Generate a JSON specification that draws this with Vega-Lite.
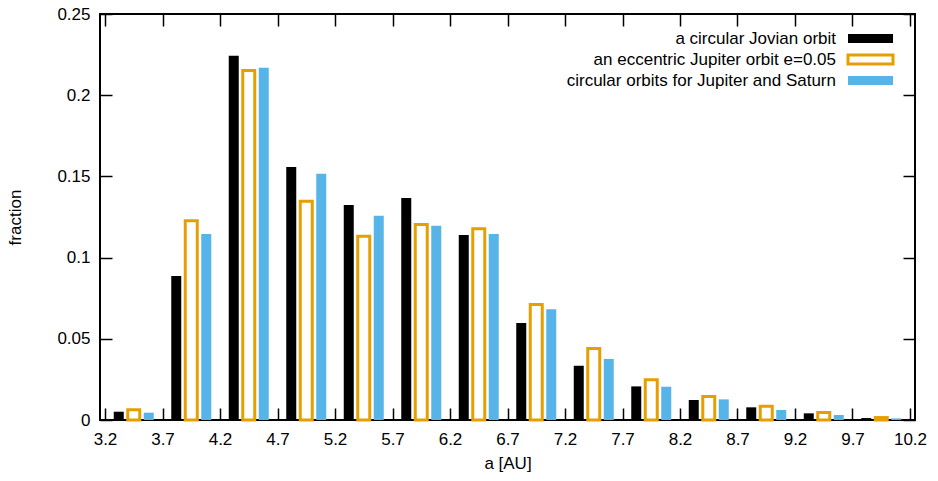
{
  "$schema": "https://vega.github.io/schema/vega-lite/v6.json",
  "width": 815,
  "height": 406,
  "autosize": {"type": "none"},
  "padding": {"left": 100, "top": 14, "right": 23, "bottom": 61},
  "background": "white",
  "config": {
    "font": "Liberation Sans",
    "view": {"stroke": "black", "strokeWidth": 2},
    "axis": {
      "grid": false,
      "domain": false,
      "tickColor": "black",
      "tickWidth": 1.5,
      "tickSize": -12,
      "labelColor": "black",
      "labelFontSize": 17,
      "labelFlush": false,
      "labelOverlap": false,
      "titleColor": "black",
      "titleFontSize": 17,
      "titleFontWeight": "normal"
    },
    "legend": {
      "orient": "top-right",
      "offset": 16,
      "padding": 0,
      "symbolType": "M-5,-1H5V1H-5Z",
      "symbolSize": 81,
      "symbolStrokeWidth": 3,
      "labelFontSize": 17,
      "labelColor": "black",
      "labelAlign": "right",
      "labelOffset": -43,
      "rowPadding": 0,
      "labelLimit": 0
    }
  },
  "data": {
    "values": [
      {"a": 3.45, "series": "a circular Jovian orbit", "fraction": 0.0051},
      {"a": 3.45, "series": "an eccentric Jupiter orbit e=0.05", "fraction": 0.0063},
      {"a": 3.45, "series": "circular orbits for Jupiter and Saturn", "fraction": 0.0045},
      {"a": 3.95, "series": "a circular Jovian orbit", "fraction": 0.0887},
      {"a": 3.95, "series": "an eccentric Jupiter orbit e=0.05", "fraction": 0.1227},
      {"a": 3.95, "series": "circular orbits for Jupiter and Saturn", "fraction": 0.1145},
      {"a": 4.45, "series": "a circular Jovian orbit", "fraction": 0.2243},
      {"a": 4.45, "series": "an eccentric Jupiter orbit e=0.05", "fraction": 0.2152},
      {"a": 4.45, "series": "circular orbits for Jupiter and Saturn", "fraction": 0.2169},
      {"a": 4.95, "series": "a circular Jovian orbit", "fraction": 0.1558},
      {"a": 4.95, "series": "an eccentric Jupiter orbit e=0.05", "fraction": 0.1347},
      {"a": 4.95, "series": "circular orbits for Jupiter and Saturn", "fraction": 0.1517},
      {"a": 5.45, "series": "a circular Jovian orbit", "fraction": 0.1324},
      {"a": 5.45, "series": "an eccentric Jupiter orbit e=0.05", "fraction": 0.1132},
      {"a": 5.45, "series": "circular orbits for Jupiter and Saturn", "fraction": 0.1258},
      {"a": 5.95, "series": "a circular Jovian orbit", "fraction": 0.1367},
      {"a": 5.95, "series": "an eccentric Jupiter orbit e=0.05", "fraction": 0.1204},
      {"a": 5.95, "series": "circular orbits for Jupiter and Saturn", "fraction": 0.1196},
      {"a": 6.45, "series": "a circular Jovian orbit", "fraction": 0.1139},
      {"a": 6.45, "series": "an eccentric Jupiter orbit e=0.05", "fraction": 0.1177},
      {"a": 6.45, "series": "circular orbits for Jupiter and Saturn", "fraction": 0.1145},
      {"a": 6.95, "series": "a circular Jovian orbit", "fraction": 0.0597},
      {"a": 6.95, "series": "an eccentric Jupiter orbit e=0.05", "fraction": 0.0711},
      {"a": 6.95, "series": "circular orbits for Jupiter and Saturn", "fraction": 0.0682},
      {"a": 7.45, "series": "a circular Jovian orbit", "fraction": 0.0334},
      {"a": 7.45, "series": "an eccentric Jupiter orbit e=0.05", "fraction": 0.0440},
      {"a": 7.45, "series": "circular orbits for Jupiter and Saturn", "fraction": 0.0376},
      {"a": 7.95, "series": "a circular Jovian orbit", "fraction": 0.0207},
      {"a": 7.95, "series": "an eccentric Jupiter orbit e=0.05", "fraction": 0.0248},
      {"a": 7.95, "series": "circular orbits for Jupiter and Saturn", "fraction": 0.0205},
      {"a": 8.45, "series": "a circular Jovian orbit", "fraction": 0.0123},
      {"a": 8.45, "series": "an eccentric Jupiter orbit e=0.05", "fraction": 0.0145},
      {"a": 8.45, "series": "circular orbits for Jupiter and Saturn", "fraction": 0.0127},
      {"a": 8.95, "series": "a circular Jovian orbit", "fraction": 0.0078},
      {"a": 8.95, "series": "an eccentric Jupiter orbit e=0.05", "fraction": 0.0085},
      {"a": 8.95, "series": "circular orbits for Jupiter and Saturn", "fraction": 0.0062},
      {"a": 9.45, "series": "a circular Jovian orbit", "fraction": 0.0041},
      {"a": 9.45, "series": "an eccentric Jupiter orbit e=0.05", "fraction": 0.0046},
      {"a": 9.45, "series": "circular orbits for Jupiter and Saturn", "fraction": 0.0031},
      {"a": 9.95, "series": "a circular Jovian orbit", "fraction": 0.0012},
      {"a": 9.95, "series": "an eccentric Jupiter orbit e=0.05", "fraction": 0.0015},
      {"a": 9.95, "series": "circular orbits for Jupiter and Saturn", "fraction": 0.0010}
    ]
  },
  "resolve": {"axis": {"x": "independent", "y": "independent"}},
  "layer": [
    {
      "transform": [{"filter": {"field": "series", "equal": "a circular Jovian orbit"}}],
      "mark": {"type": "bar", "width": 10, "xOffset": -15, "strokeWidth": 0},
      "encoding": {
        "x": {"field": "a", "type": "quantitative", "scale": {"domain": [3.2, 10.2], "nice": false, "zero": false},
          "axis": {"orient": "bottom", "values": [3.2, 3.7, 4.2, 4.7, 5.2, 5.7, 6.2, 6.7, 7.2, 7.7, 8.2, 8.7, 9.2, 9.7, 10.2], "format": ".1f", "labelPadding": 23, "title": "a [AU]", "titlePadding": 8}},
        "y": {"field": "fraction", "type": "quantitative", "scale": {"domain": [0, 0.25], "nice": false},
          "axis": {"orient": "left", "values": [0, 0.05, 0.1, 0.15, 0.2, 0.25], "format": ".2~f", "labelPadding": 22, "title": "fraction", "titlePadding": 32}},
        "fill": {"field": "series", "type": "nominal", "title": null,
          "scale": {"domain": ["a circular Jovian orbit", "an eccentric Jupiter orbit e=0.05", "circular orbits for Jupiter and Saturn"], "range": ["#000000", "#ffffff", "#56B4E9"]}},
        "stroke": {"field": "series", "type": "nominal", "title": null,
          "scale": {"domain": ["a circular Jovian orbit", "an eccentric Jupiter orbit e=0.05", "circular orbits for Jupiter and Saturn"], "range": ["transparent", "#E69F00", "transparent"]}}
      }
    },
    {
      "transform": [{"filter": {"field": "series", "equal": "an eccentric Jupiter orbit e=0.05"}}],
      "mark": {"type": "bar", "width": 12, "xOffset": 0, "strokeWidth": 3},
      "encoding": {
        "x": {"field": "a", "type": "quantitative",
          "axis": {"orient": "top", "values": [3.2, 3.7, 4.2, 4.7, 5.2, 5.7, 6.2, 6.7, 7.2, 7.7, 8.2, 8.7, 9.2, 9.7, 10.2], "labels": false, "title": null}},
        "y": {"field": "fraction", "type": "quantitative",
          "axis": {"orient": "right", "values": [0, 0.05, 0.1, 0.15, 0.2, 0.25], "labels": false, "title": null}},
        "fill": {"field": "series", "type": "nominal", "title": null},
        "stroke": {"field": "series", "type": "nominal", "title": null}
      }
    },
    {
      "transform": [{"filter": {"field": "series", "equal": "circular orbits for Jupiter and Saturn"}}],
      "mark": {"type": "bar", "width": 10, "xOffset": 15, "strokeWidth": 0},
      "encoding": {
        "x": {"field": "a", "type": "quantitative", "axis": null},
        "y": {"field": "fraction", "type": "quantitative", "axis": null},
        "fill": {"field": "series", "type": "nominal", "title": null},
        "stroke": {"field": "series", "type": "nominal", "title": null}
      }
    }
  ]
}
